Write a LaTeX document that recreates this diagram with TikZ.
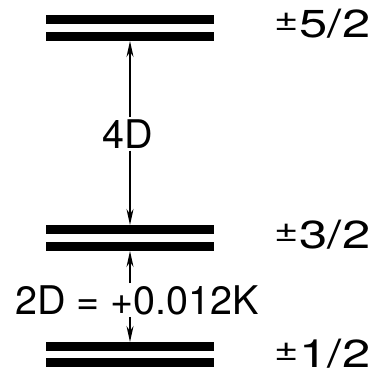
\documentclass[tikz,border=0pt]{standalone}
\usepackage{fontspec}
\setmainfont{TeX Gyre Heros}
\usetikzlibrary{arrows.meta}
\tikzset{
  bar/.style={fill=black, draw=none, minimum width=168pt, minimum height=9pt, inner sep=0pt, outer sep=0pt},
  lbl/.style={font=\fontsize{39.5}{40}\selectfont, inner sep=2pt},
  sub/.style={font=\fontsize{39}{39}\selectfont, inner sep=0pt, anchor=west},
  arr/.style={line width=1.6pt, -{Stealth[length=16pt,width=7pt]}}
}
\newcommand{\pmsign}{\raisebox{7pt}{\fontsize{32}{32}\selectfont ±}\kern1pt}
\newcommand{\lvltext}[1]{\scalebox{1.3}[1]{\pmsign#1}}
\begin{document}
\begin{tikzpicture}[x=1pt,y=-1pt]
\useasboundingbox (0,0) rectangle (379,377);
% levels
\node[bar] (t1) at (130,19.5) {};
\node[bar] (t2) at (130,36.5) {};
\node[bar] (m1) at (130,229.5) {};
\node[bar] (m2) at (130,246.5) {};
\node[bar] (b1) at (130,346.5) {};
\node[bar] (b2) at (130,362.5) {};
% level labels
\node[sub] (s52) at (274,24) {\lvltext{5/2}};
\node[sub] (s32) at (274,235) {\lvltext{3/2}};
\node[sub] (s12) at (274,354) {\lvltext{1/2}};
% splitting labels
\coordinate (ax) at (130,0);
\node[lbl] (l4) at (128,134) {4D};
\node[lbl] (l2) at (137,300) {2D = +0.012K};
% arrows
\draw[arr] (ax |- l4.north) -- (ax |- t2.south);
\draw[arr] (ax |- l4.south) -- (ax |- m1.north);
\draw[arr] (ax |- l2.north) -- (ax |- m2.south);
\draw[arr] (ax |- l2.south) -- (ax |- b1.north);
\end{tikzpicture}
\end{document}
